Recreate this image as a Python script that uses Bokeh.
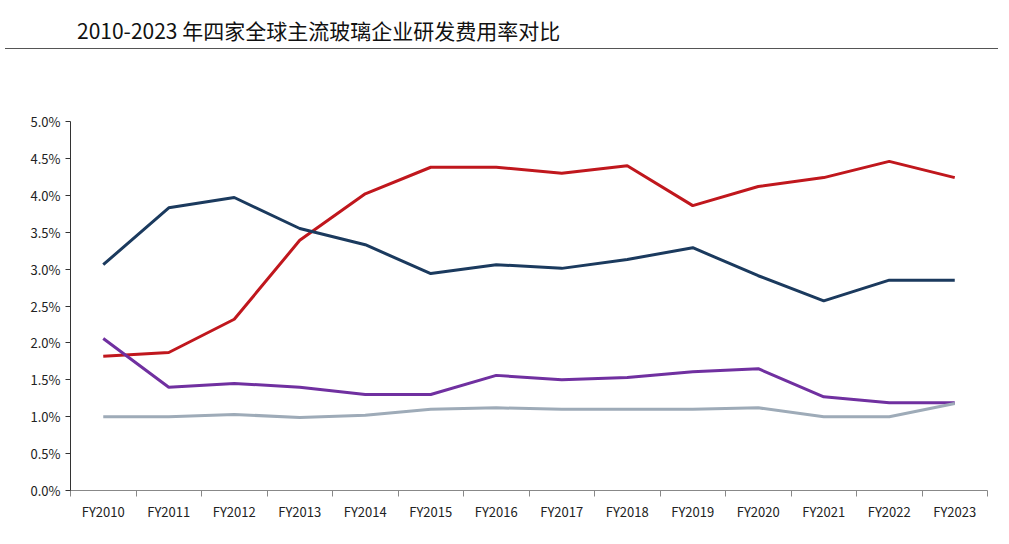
from bokeh.plotting import figure
from bokeh.models import FixedTicker, PrintfTickFormatter, Legend, LegendItem, Div, Range1d
from bokeh.layouts import column
from bokeh.embed import file_html
from bokeh.resources import INLINE

years = ["FY2010","FY2011","FY2012","FY2013","FY2014","FY2015","FY2016","FY2017","FY2018","FY2019","FY2020","FY2021","FY2022","FY2023"]
fuyao = [1.82,1.87,2.32,3.39,4.02,4.38,4.38,4.30,4.40,3.86,4.12,4.24,4.46,4.24]
agc = [3.06,3.83,3.97,3.55,3.33,2.94,3.06,3.01,3.13,3.29,2.91,2.57,2.85,2.85]
nsg = [2.06,1.40,1.45,1.40,1.30,1.30,1.56,1.50,1.53,1.61,1.65,1.27,1.19,1.19]
sg = [1.00,1.00,1.03,0.99,1.02,1.10,1.12,1.10,1.10,1.10,1.12,1.00,1.00,1.18]
names = ["福耀玻璃","旭硝子","板硝子","圣戈班"]
colors = ["#C0171D","#1B3A5E","#7030A0","#9EABB8"]
FONT = "Noto Sans CJK SC"

x = list(range(len(years)))
p = figure(width=993, height=474, output_backend="svg", toolbar_location=None,
           x_range=Range1d(-0.5, len(years)-0.5), y_range=Range1d(0, 5),
           min_border_left=70, min_border_right=6, min_border_bottom=38, min_border_top=67)
p.outline_line_color = None
p.xgrid.visible = False
p.ygrid.visible = False

items = []
for n, c, d in zip(names, colors, [fuyao, agc, nsg, sg]):
    r = p.line(x, d, line_color=c, line_width=3)
    items.append(LegendItem(label=n, renderers=[r]))
leg = Legend(items=items, orientation="horizontal", location=(190, 372),
             label_text_font=FONT, label_text_font_size="14px", label_text_color="#333333",
             glyph_width=42, spacing=28, border_line_color=None, background_fill_alpha=0,
             margin=0, padding=2)
p.add_layout(leg, "center")

p.xaxis.ticker = FixedTicker(ticks=x, minor_ticks=[i-0.5 for i in range(len(years)+1)])
p.xaxis.major_label_overrides = {i: y for i, y in enumerate(years)}
p.xaxis.major_tick_line_color = None
p.xaxis.minor_tick_out = 6
p.xaxis.minor_tick_in = 0
p.xaxis.minor_tick_line_color = "#888888"
p.xaxis.axis_line_color = "#888888"
p.yaxis.ticker = FixedTicker(ticks=[i*0.5 for i in range(11)], minor_ticks=[])
p.yaxis.formatter = PrintfTickFormatter(format="%.1f%%")
p.yaxis.major_tick_in = 0
p.yaxis.major_tick_out = 5
p.yaxis.axis_line_color = "#333333"
p.yaxis.major_tick_line_color = "#333333"
for ax in (p.xaxis, p.yaxis):
    ax.major_label_text_font = FONT
    ax.major_label_text_font_size = "13px"
    ax.major_label_text_color = "#222222"

title = Div(text="2010-2023 年四家全球主流玻璃企业研发费用率对比",
            width=993, height=44,
            styles={"font-family": FONT, "font-size": "21px", "color": "#111111",
                    "border-bottom": "1px solid #555555", "padding-left": "72px",
                    "padding-top": "10px", "width": "993px", "box-sizing": "border-box"})
lay = column(title, p, spacing=0)
open("out.html", "w").write(file_html(lay, INLINE))
